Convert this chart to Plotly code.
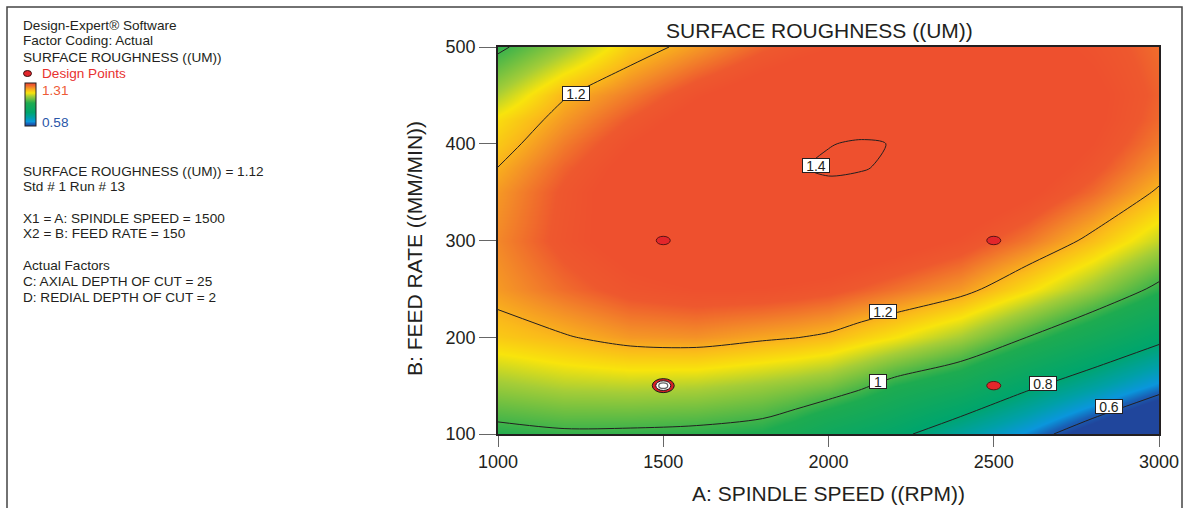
import plotly.graph_objects as go

# ---------------- data ----------------
spindle_speed = [1000, 1200, 1400, 1600, 1800, 1900, 2000, 2100, 2200, 2400, 2600, 2800, 3000]  # A (RPM)
feed_rate = [100, 150, 200, 250, 300, 350, 375, 400, 425, 450, 500]                             # B (MM/MIN)
# surface roughness (UM): one row per feed rate, one column per spindle speed
roughness = [
    [0.975, 0.988, 0.986, 0.980, 0.965, 0.935, 0.888, 0.857, 0.825, 0.735, 0.645, 0.535, 0.421],   # 100
    [1.075, 1.095, 1.100, 1.095, 1.075, 1.062, 1.045, 1.012, 0.970, 0.915, 0.820, 0.735, 0.641],   # 150
    [1.172, 1.195, 1.222, 1.228, 1.210, 1.202, 1.190, 1.165, 1.142, 1.085, 1.000, 0.915, 0.828],   # 200
    [1.221, 1.262, 1.295, 1.309, 1.308, 1.301, 1.292, 1.275, 1.258, 1.222, 1.152, 1.075, 0.982],   # 250
    [1.238, 1.293, 1.332, 1.357, 1.366, 1.365, 1.361, 1.350, 1.335, 1.303, 1.252, 1.185, 1.104],   # 300
    [1.222, 1.287, 1.337, 1.372, 1.3915, 1.3957, 1.3962, 1.3928, 1.3857, 1.360, 1.320, 1.264, 1.192],  # 350
    [1.201, 1.271, 1.327, 1.367, 1.3920, 1.3989, 1.4019, 1.4012, 1.3967, 1.3762, 1.341, 1.290, 1.224],  # 375
    [1.174, 1.248, 1.309, 1.354, 1.3843, 1.3938, 1.3995, 1.4014, 1.3995, 1.3843, 1.354, 1.309, 1.248],  # 400
    [1.150, 1.222, 1.282, 1.333, 1.3684, 1.3805, 1.3888, 1.3933, 1.3941, 1.3841, 1.360, 1.319, 1.264],  # 425
    [1.092, 1.195, 1.248, 1.304, 1.345, 1.359, 1.370, 1.377, 1.381, 1.376, 1.356, 1.321, 1.271],   # 450
    [0.985, 1.072, 1.170, 1.221, 1.272, 1.292, 1.308, 1.3205, 1.329, 1.335, 1.326, 1.301, 1.261],  # 500
]
color_min, color_max = 0.58, 1.31
contour_levels = dict(start=0.6, end=1.45, size=0.2)

design_a = [1500, 2500, 2500]
design_b = [300, 300, 150]
selected_a = [1500]
selected_b = [150]

label_a = [1236, 1962, 2165, 2150, 2649, 2849]
label_b = [452, 378, 227, 154, 152, 128]
label_text = ["1.2", "1.4", "1.2", "1", "0.8", "0.6"]

x_ticks = [1000, 1500, 2000, 2500, 3000]
y_ticks = [100, 200, 300, 400, 500]

info_lines = [
    ("Design-Expert® Software", 25),
    ("Factor Coding: Actual", 41),
    ("SURFACE ROUGHNESS ((UM))", 57),
    ("SURFACE ROUGHNESS ((UM)) = 1.12", 171),
    ("Std # 1 Run # 13", 186),
    ("X1 = A: SPINDLE SPEED = 1500", 218),
    ("X2 = B: FEED RATE = 150", 233),
    ("Actual Factors", 265),
    ("C: AXIAL DEPTH OF CUT = 25", 281),
    ("D: REDIAL DEPTH OF CUT = 2", 297),
]

# ---------------- layout geometry ----------------
W_FIG, H_FIG = 1184, 508
L, R, T, B = 498, 25, 47, 74
PW, PH = W_FIG - L - R, H_FIG - T - B
FONT = "Liberation Sans, Arial, sans-serif"
INK = "#231F20"


def px_x(px):
    return (px - L) / PW


def px_y(py):
    return (T + PH - py) / PH


def norm(v):
    return (v - color_min) / (color_max - color_min)


colorscale = [
    [0.0, "rgb(32,70,156)"],
    [norm(0.615), "rgb(25,95,180)"],
    [norm(0.655), "rgb(10,150,220)"],
    [norm(0.72), "rgb(0,160,168)"],
    [norm(0.81), "rgb(0,165,108)"],
    [norm(0.97), "rgb(30,171,80)"],
    [norm(1.085), "rgb(165,205,55)"],
    [norm(1.14), "rgb(248,228,12)"],
    [norm(1.19), "rgb(250,186,26)"],
    [norm(1.235), "rgb(243,138,40)"],
    [norm(1.28), "rgb(238,88,46)"],
    [1.0, "rgb(238,80,46)"],
]

fig = go.Figure()

# hidden heatmap underneath: provides the continuous colour key
fig.add_trace(go.Heatmap(
    x=spindle_speed, y=feed_rate, z=roughness,
    zmin=color_min, zmax=color_max, colorscale=colorscale,
    hoverinfo="skip", showscale=True,
    colorbar=dict(
        x=px_x(25), xanchor="left", y=px_y(104.5), yanchor="middle",
        lenmode="pixels", len=43, thickness=11, xpad=0, ypad=0,
        outlinewidth=1, outlinecolor=INK, borderwidth=0,
        showticklabels=False, ticks="",
    ),
))

fig.add_trace(go.Contour(
    x=spindle_speed, y=feed_rate, z=roughness,
    zmin=color_min, zmax=color_max, zauto=False,
    colorscale=colorscale, showscale=False,
    contours=dict(coloring="heatmap", showlines=True, showlabels=False, **contour_levels),
    line=dict(color=INK, width=1, smoothing=0.85),
    hoverinfo="skip",
))

shapes = []
# design points (ellipses anchored on data values)
for a, b in zip(design_a, design_b):
    shapes.append(dict(type="circle", xref="x", yref="y", xsizemode="pixel", ysizemode="pixel",
                       xanchor=a, yanchor=b, x0=-7, x1=7, y0=-4.2, y1=4.2,
                       fillcolor="#E3262B", line=dict(color="#5A1414", width=1)))
for a, b in zip(selected_a, selected_b):
    shapes.append(dict(type="circle", xref="x", yref="y", xsizemode="pixel", ysizemode="pixel",
                       xanchor=a, yanchor=b, x0=-11, x1=11, y0=-7, y1=7,
                       fillcolor="#D42026", line=dict(color="#1A1A1A", width=1)))
    shapes.append(dict(type="circle", xref="x", yref="y", xsizemode="pixel", ysizemode="pixel",
                       xanchor=a, yanchor=b, x0=-7.5, x1=7.5, y0=-4.8, y1=4.8,
                       fillcolor="white", line=dict(color="#1A1A1A", width=1)))
    shapes.append(dict(type="circle", xref="x", yref="y", xsizemode="pixel", ysizemode="pixel",
                       xanchor=a, yanchor=b, x0=-4.5, x1=4.5, y0=-2.8, y1=2.8,
                       fillcolor="white", line=dict(color="#666666", width=1.3)))
# legend dot
shapes.append(dict(type="circle", xref="paper", yref="paper", xsizemode="pixel", ysizemode="pixel",
                   xanchor=px_x(27.5), yanchor=px_y(73.5), x0=-4, x1=4, y0=-3, y1=3,
                   fillcolor="#E3262B", line=dict(color="#3A1010", width=1)))
# outer frame of the picture
shapes.append(dict(type="rect", xref="paper", yref="paper",
                   x0=px_x(7), x1=px_x(1182), y0=px_y(530), y1=px_y(7),
                   line=dict(color="#444444", width=1.5), fillcolor="rgba(0,0,0,0)"))

annotations = []
for a, b, t in zip(label_a, label_b, label_text):
    annotations.append(dict(x=a, y=b, xref="x", yref="y", text=t, showarrow=False,
                            font=dict(family=FONT, size=14, color=INK),
                            bgcolor="white", bordercolor=INK, borderwidth=1, borderpad=0,
                            width=(16 if len(t) == 1 else 26), height=13))

for txt, py in info_lines:
    annotations.append(dict(x=px_x(21.5), y=px_y(py), xref="paper", yref="paper", text=txt,
                            xanchor="left", yanchor="middle", showarrow=False,
                            font=dict(family=FONT, size=13.6, color=INK)))
annotations.append(dict(x=px_x(40), y=px_y(73.5), xref="paper", yref="paper", text="Design Points",
                        xanchor="left", yanchor="middle", showarrow=False,
                        font=dict(family=FONT, size=13.6, color="#E8312F")))
annotations.append(dict(x=px_x(40), y=px_y(90), xref="paper", yref="paper", text=f"{color_max:.2f}",
                        xanchor="left", yanchor="middle", showarrow=False,
                        font=dict(family=FONT, size=13.6, color="#EE5A36")))
annotations.append(dict(x=px_x(40), y=px_y(122), xref="paper", yref="paper", text=f"{color_min:.2f}",
                        xanchor="left", yanchor="middle", showarrow=False,
                        font=dict(family=FONT, size=13.6, color="#2A56A8")))
# titles
annotations.append(dict(x=px_x(819), y=px_y(30), xref="paper", yref="paper",
                        text="SURFACE ROUGHNESS ((UM))", showarrow=False,
                        xanchor="center", yanchor="middle",
                        font=dict(family=FONT, size=21, color=INK)))
annotations.append(dict(x=px_x(828), y=px_y(493), xref="paper", yref="paper",
                        text="A: SPINDLE SPEED ((RPM))", showarrow=False,
                        xanchor="center", yanchor="middle",
                        font=dict(family=FONT, size=21, color=INK)))
annotations.append(dict(x=px_x(414), y=px_y(249), xref="paper", yref="paper",
                        text="B: FEED RATE ((MM/MIN))", showarrow=False, textangle=-90,
                        xanchor="center", yanchor="middle",
                        font=dict(family=FONT, size=21, color=INK)))

fig.update_layout(
    width=W_FIG, height=H_FIG,
    margin=dict(l=L, r=R, t=T, b=B, pad=0, autoexpand=False),
    paper_bgcolor="white", plot_bgcolor="white",
    showlegend=False,
    font=dict(family=FONT, color=INK),
    shapes=shapes, annotations=annotations,
    xaxis=dict(range=[spindle_speed[0], spindle_speed[-1]], tickvals=x_ticks,
               ticks="outside", ticklen=11, tickwidth=1, tickcolor="#666666",
               showline=True, linecolor=INK, linewidth=1.5, mirror=True,
               showgrid=False, zeroline=False,
               tickfont=dict(family=FONT, size=18, color=INK)),
    yaxis=dict(range=[feed_rate[0], feed_rate[-1]], tickvals=y_ticks,
               ticks="outside", ticklen=17, tickwidth=1, tickcolor="#666666",
               showline=True, linecolor=INK, linewidth=1.5, mirror=True,
               showgrid=False, zeroline=False,
               tickfont=dict(family=FONT, size=18, color=INK)),
)

fig.write_html("out.html")
